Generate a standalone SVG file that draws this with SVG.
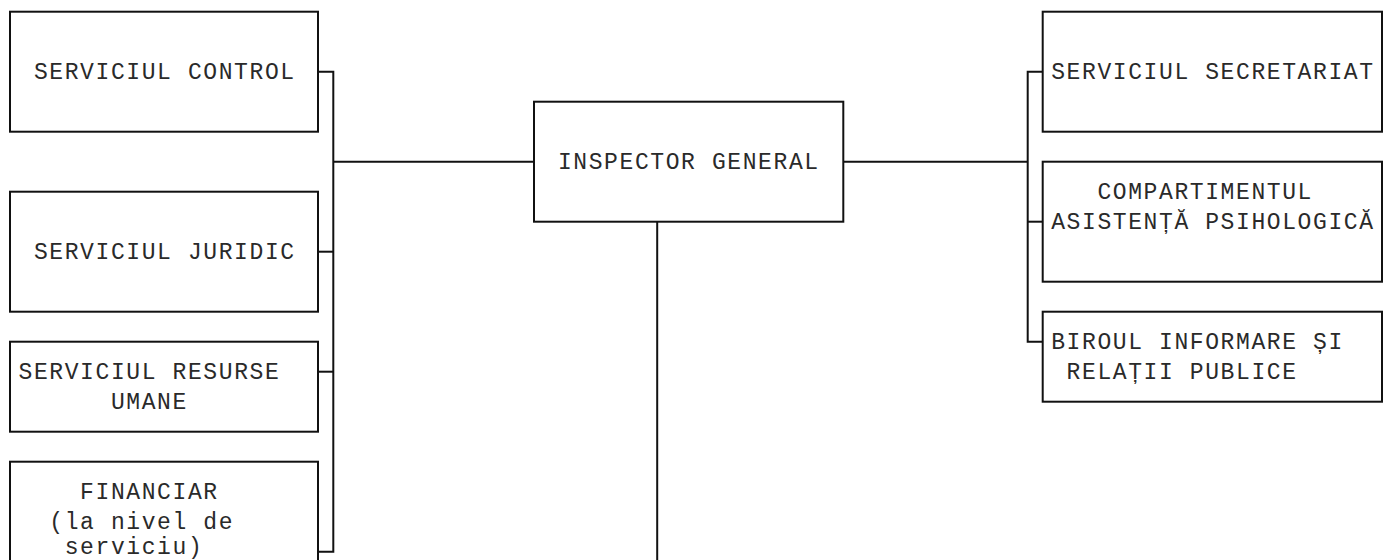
<svg xmlns="http://www.w3.org/2000/svg" width="1389" height="560" viewBox="0 0 1389 560">
<style>
.box{fill:#fff;stroke:#111;stroke-width:2}
.conn{fill:none;stroke:#111;stroke-width:2}
text{font-family:"Liberation Mono","DejaVu Sans Mono",monospace;font-size:23px;letter-spacing:1.6px;fill:#2a2a2a}
</style>
<rect width="1389" height="560" fill="#fff"/>
<g id="connectors">
<path class="conn" d="M318,71.7 H333.3 V551.7 H318"/>
<path class="conn" d="M318,251.7 H333.3"/>
<path class="conn" d="M318,371.7 H333.3"/>
<path class="conn" d="M333.3,161.7 H534"/>
<path class="conn" d="M843.3,161.7 H1027.7"/>
<path class="conn" d="M1042.7,71.7 H1027.7 V341.7 H1042.7"/>
<path class="conn" d="M1027.7,221.7 H1042.7"/>
<path class="conn" d="M657.2,221.7 V560"/>
</g>
<g id="serviciul-control">
<rect class="box" x="10" y="11.7" width="308" height="120"/>
<text x="33.9" y="79.3">SERVICIUL CONTROL</text>
</g>
<g id="serviciul-juridic">
<rect class="box" x="10" y="191.7" width="308" height="120"/>
<text x="33.9" y="259.3">SERVICIUL JURIDIC</text>
</g>
<g id="serviciul-resurse-umane">
<rect class="box" x="10" y="341.7" width="308" height="90"/>
<text x="18.5" y="379.3">SERVICIUL RESURSE</text>
<text x="110.9" y="409.3">UMANE</text>
</g>
<g id="financiar">
<rect class="box" x="10" y="461.7" width="308" height="130"/>
<text x="80.1" y="499.3">FINANCIAR</text>
<text x="49.3" y="529.3">(la nivel de</text>
<text x="64.7" y="554">serviciu)</text>
</g>
<g id="inspector-general">
<rect class="box" x="534" y="101.7" width="309.3" height="120"/>
<text x="557.9" y="169.3">INSPECTOR GENERAL</text>
</g>
<g id="serviciul-secretariat">
<rect class="box" x="1042.7" y="11.7" width="339.3" height="120"/>
<text x="1051.2" y="79.3">SERVICIUL SECRETARIAT</text>
</g>
<g id="compartimentul-asistenta">
<rect class="box" x="1042.7" y="161.7" width="339.3" height="120"/>
<text x="1097.4" y="199.3">COMPARTIMENTUL</text>
<text x="1051.2" y="229.3">ASISTENȚĂ PSIHOLOGICĂ</text>
</g>
<g id="biroul-informare">
<rect class="box" x="1042.7" y="311.7" width="339.3" height="90"/>
<text x="1051.2" y="349.3">BIROUL INFORMARE ȘI</text>
<text x="1066.6" y="379.3">RELAȚII PUBLICE</text>
</g>
</svg>
